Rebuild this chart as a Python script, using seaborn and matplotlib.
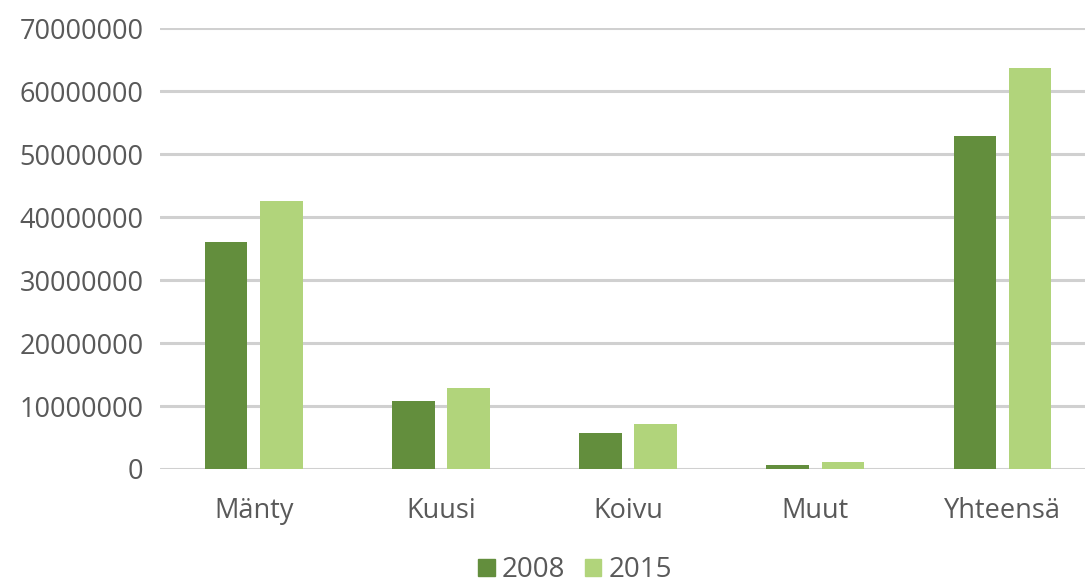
import pandas as pd
import seaborn as sns
import matplotlib
matplotlib.use('Agg')
import matplotlib.pyplot as plt

# data
species = ["Mänty", "Kuusi", "Koivu", "Muut", "Yhteensä"]
years = ["2008", "2015"]
values_2008 = [36000000, 10800000, 5700000, 600000, 52900000]
values_2015 = [42600000, 12900000, 7200000, 1100000, 63700000]
yticks = [0, 10000000, 20000000, 30000000, 40000000, 50000000, 60000000, 70000000]

df = pd.DataFrame({
    "laji": species * 2,
    "vuosi": [years[0]] * len(species) + [years[1]] * len(species),
    "arvo": values_2008 + values_2015,
})

sns.set_style("white")
plt.rcParams['font.family'] = ['Open Sans', 'DejaVu Sans']

fig = plt.figure(figsize=(10.85, 5.88), dpi=100)
ax = fig.add_axes([0.1475, 0.2024, 0.8525, 0.7496])

colors = {"2008": "#638E3D", "2015": "#B1D47B"}
sns.barplot(data=df, x="laji", y="arvo", hue="vuosi", palette=colors,
            width=0.59, gap=0.23, ax=ax, legend=False, saturation=1,
            linewidth=0, zorder=3)

ax.set_ylim(0, 70000000)
ax.set_xlim(-0.5, 4.44)
ax.set_yticks(yticks)
ax.set_yticklabels([str(v) for v in yticks])
ax.yaxis.grid(True, color="#d0d0d0", linewidth=2.2, zorder=0)
ax.set_axisbelow(True)
for s in ax.spines.values():
    s.set_visible(False)
ax.set_xlabel("")
ax.set_ylabel("")
ax.tick_params(axis='both', length=0, labelsize=19.5, colors="#595959")
ax.tick_params(axis='y', pad=12)
ax.tick_params(axis='x', pad=20)

# legend sits at the very bottom like in the reference
handles = [plt.Rectangle((0, 0), 1, 1, color=colors[y]) for y in years]
fig.legend(handles, years, loc='center', bbox_to_anchor=(0.53, 0.03),
           ncol=2, frameon=False, fontsize=20, handlelength=0.6,
           handleheight=0.6, handletextpad=0.25, columnspacing=0.7,
           labelcolor="#595959")

fig.savefig("out.png", dpi=100)
